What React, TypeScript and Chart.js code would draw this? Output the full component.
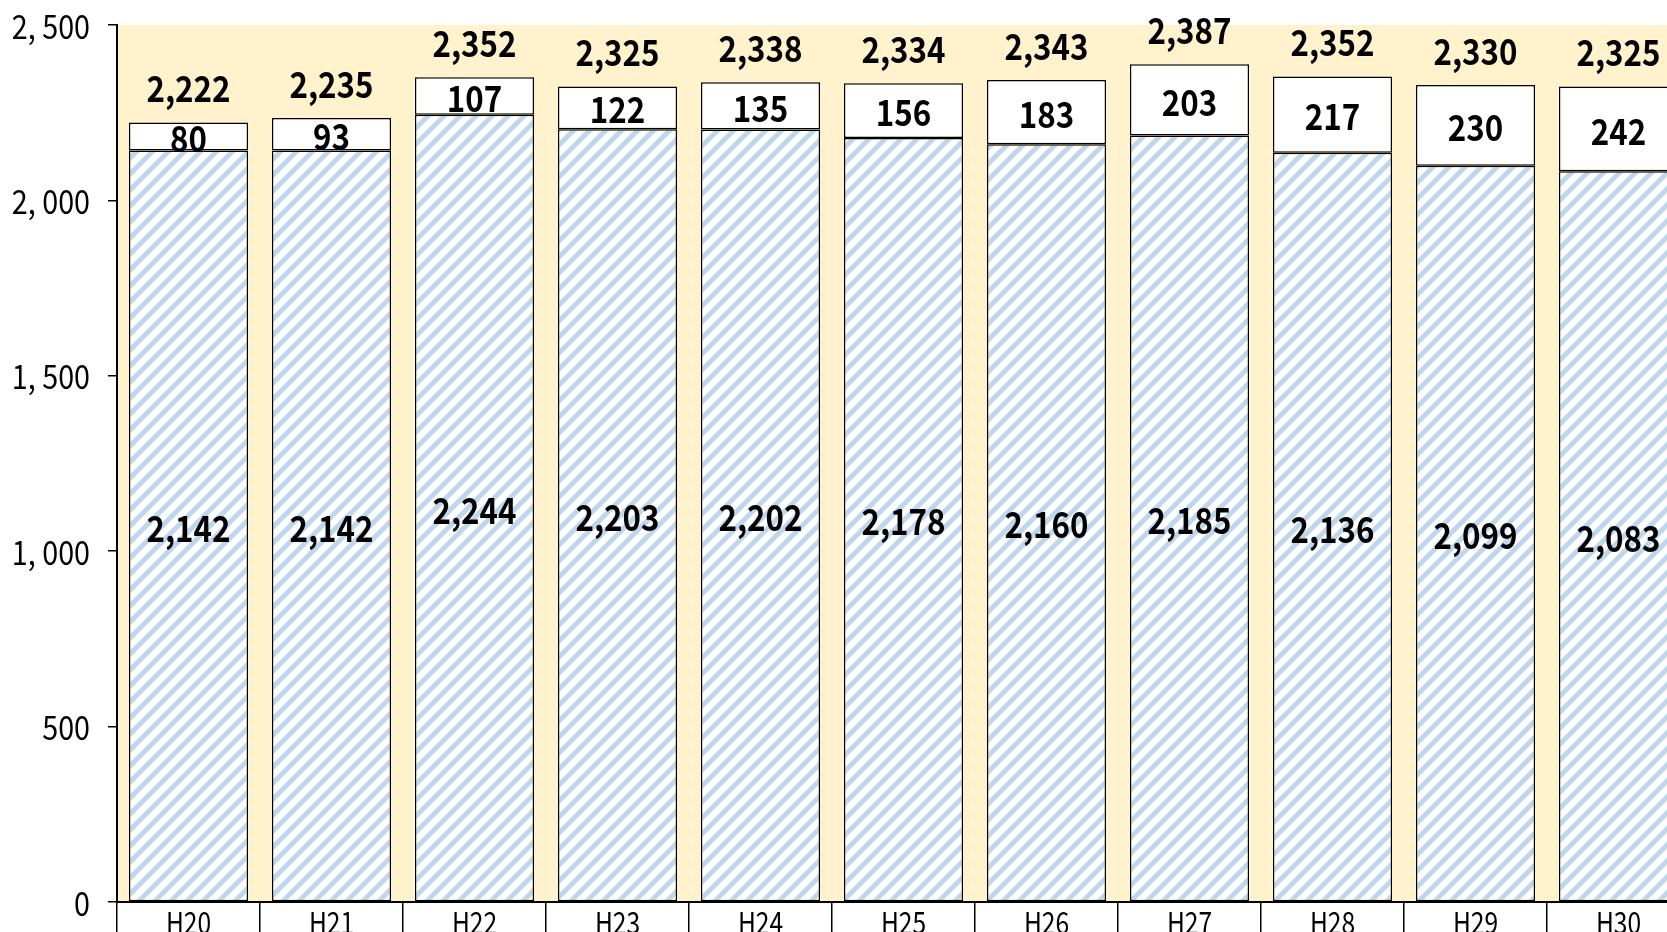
import React, { useEffect, useRef } from "react";
import { Chart, registerables } from "chart.js";

Chart.register(...registerables);

const categories = ["H20", "H21", "H22", "H23", "H24", "H25", "H26", "H27", "H28", "H29", "H30"];
const baseValues = [2142, 2142, 2244, 2203, 2202, 2178, 2160, 2185, 2136, 2099, 2083];
const topValues = [80, 93, 107, 122, 135, 156, 183, 203, 217, 230, 242];
const totalLabels = ["2,222", "2,235", "2,352", "2,325", "2,338", "2,334", "2,343", "2,387", "2,352", "2,330", "2,325"];
const yTickValues = [0, 500, 1000, 1500, 2000, 2500];
const yTickLabels = ["0", "500", "1, 000", "1, 500", "2, 000", "2, 500"];

const fmt = (v: number) => v.toLocaleString("en-US");

const FAMILY = "'Noto Sans CJK JP', 'Noto Sans', sans-serif";
const LABEL_FONT = `bold 36px ${FAMILY}`;
const TICK_FONT = `33px ${FAMILY}`;
const XTICK_FONT = `30px ${FAMILY}`;

// the plot runs on past the right edge of the picture
const PLOT_OVERRUN = 23;

function makePattern(): CanvasPattern | string {
  const S = 16;
  const c = document.createElement("canvas");
  c.width = S;
  c.height = S;
  const ctx = c.getContext("2d");
  if (!ctx) return "#BDD7EE";
  ctx.fillStyle = "#ffffff";
  ctx.fillRect(0, 0, S, S);
  ctx.strokeStyle = "#BDD7EE";
  ctx.lineWidth = 5;
  ctx.lineCap = "square";
  for (let k = -1; k <= 1; k++) {
    ctx.beginPath();
    ctx.moveTo(k * S, S);
    ctx.lineTo(k * S + S, 0);
    ctx.stroke();
  }
  const p = ctx.createPattern(c, "repeat");
  return p || "#BDD7EE";
}

function drawScaled(ctx: CanvasRenderingContext2D, text: string, x: number, y: number, sx: number) {
  ctx.save();
  ctx.translate(x, y);
  ctx.scale(sx, 1);
  ctx.fillText(text, 0, 0);
  ctx.restore();
}

const extendPlugin = {
  id: "extendArea",
  afterLayout(chart: any) {
    const xs = chart.scales.x;
    chart.chartArea.right += PLOT_OVERRUN;
    chart.chartArea.width = chart.chartArea.right - chart.chartArea.left;
    xs.right += PLOT_OVERRUN;
    xs.width += PLOT_OVERRUN;
    xs.configure();
  },
};

const bgPlugin = {
  id: "plotBg",
  beforeDraw(chart: any) {
    const { ctx, chartArea } = chart;
    ctx.save();
    ctx.fillStyle = "#FFF2CC";
    ctx.fillRect(chartArea.left, chartArea.top, chartArea.right - chartArea.left, chartArea.bottom - chartArea.top);
    ctx.restore();
  },
};

const labelPlugin = {
  id: "barLabels",
  afterDraw(chart: any) {
    const ctx = chart.ctx;
    ctx.save();
    ctx.fillStyle = "#000000";
    ctx.textAlign = "center";
    ctx.textBaseline = "middle";
    ctx.font = LABEL_FONT;
    const m0 = chart.getDatasetMeta(0);
    const m1 = chart.getDatasetMeta(1);
    m0.data.forEach((el: any, i: number) => {
      drawScaled(ctx, fmt(baseValues[i]), el.x, (el.y + el.base) / 2 + 2, 0.87);
    });
    m1.data.forEach((el: any, i: number) => {
      drawScaled(ctx, fmt(topValues[i]), el.x, (el.y + el.base) / 2 + 2, 0.87);
      drawScaled(ctx, totalLabels[i], el.x, el.y - 34, 0.87);
    });
    const ys = chart.scales.y;
    ctx.font = TICK_FONT;
    ctx.textAlign = "right";
    ctx.textBaseline = "middle";
    yTickValues.forEach((v, i) => {
      drawScaled(ctx, yTickLabels[i], ys.left + ys.width - 27, ys.getPixelForValue(v) + 1, 0.87);
    });
    const xs = chart.scales.x;
    ctx.font = XTICK_FONT;
    ctx.textAlign = "center";
    ctx.textBaseline = "top";
    categories.forEach((c, i) => {
      drawScaled(ctx, c, xs.getPixelForValue(i), xs.top + 6, 0.82);
    });
    ctx.restore();
  },
};

export default function App() {
  const ref = useRef<HTMLCanvasElement | null>(null);
  useEffect(() => {
    document.documentElement.style.overflow = "hidden";
    document.body.style.overflow = "hidden";
    if (!ref.current) return;
    const pattern = makePattern();
    const chart = new Chart(ref.current, {
      type: "bar",
      data: {
        labels: categories,
        datasets: [
          {
            data: baseValues,
            backgroundColor: pattern as any,
            borderColor: "#000000",
            borderWidth: 1.5,
            borderSkipped: false,
            barPercentage: 0.833,
            categoryPercentage: 1,
          },
          {
            data: topValues,
            backgroundColor: "#ffffff",
            borderColor: "#000000",
            borderWidth: 1.5,
            borderSkipped: false,
            barPercentage: 0.833,
            categoryPercentage: 1,
          },
        ],
      },
      options: {
        responsive: false,
        animation: false,
        layout: { padding: { top: 17, right: 0, left: 0, bottom: 0 } },
        plugins: { legend: { display: false }, tooltip: { enabled: false } },
        scales: {
          x: {
            stacked: true,
            grid: {
              offset: true,
              drawOnChartArea: false,
              drawTicks: true,
              tickLength: 40,
              color: "#000000",
              lineWidth: 1.5,
            },
            border: { color: "#000000", width: 2 },
            ticks: { display: false },
            afterFit(scale: any) {
              scale.height = 30;
            },
          },
          y: {
            stacked: true,
            min: 0,
            max: 2500,
            afterBuildTicks(scale: any) {
              scale.ticks = yTickValues.map((v) => ({ value: v }));
            },
            grid: {
              drawOnChartArea: false,
              drawTicks: true,
              tickLength: 9,
              color: "#000000",
              lineWidth: 1.5,
            },
            border: { color: "#000000", width: 2 },
            ticks: { display: false },
            afterFit(scale: any) {
              scale.width = 109;
            },
          },
        },
      },
      plugins: [extendPlugin, bgPlugin, labelPlugin],
    });
    return () => chart.destroy();
  }, []);
  return (
    <div>
      <canvas
        ref={ref}
        width={1659}
        height={924}
        style={{ display: "block", position: "fixed", left: 8, top: 8 }}
      />
    </div>
  );
}
